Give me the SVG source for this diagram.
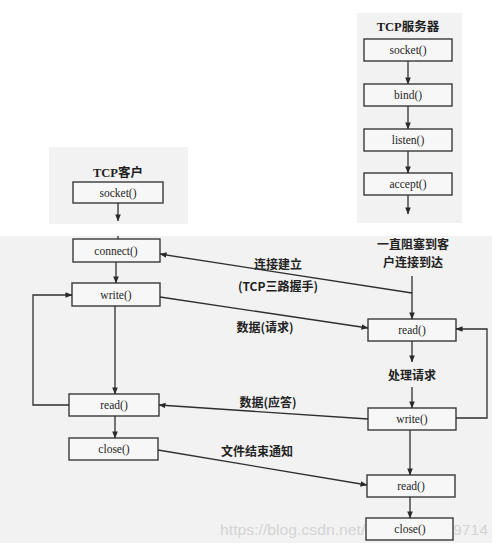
<svg xmlns="http://www.w3.org/2000/svg" width="500" height="552" viewBox="0 0 500 552">
<defs>
<marker id="ah" viewBox="0 0 8 8" refX="7.5" refY="4" markerWidth="7" markerHeight="7" markerUnits="userSpaceOnUse" orient="auto">
<path d="M0,0.8 L8,4 L0,7.2 Z" fill="#2a2a2a"/>
</marker>
</defs>
<style>
.panel{fill:#f2f2f2;stroke:none}
.box{fill:#f7f7f7;stroke:#3a3a3a;stroke-width:1.4}
.lbl{font-family:"Liberation Serif","Noto Sans CJK SC",serif;font-size:11.5px;fill:#1e1e1e;text-anchor:middle}
.cn{font-family:"Noto Sans CJK SC","Liberation Serif",sans-serif;font-size:12px;font-weight:bold;fill:#222;text-anchor:middle}
.ttl{font-family:"Liberation Serif","Noto Sans CJK SC",serif;font-size:12.5px;font-weight:bold;fill:#1e1e1e;text-anchor:middle}
.ln{fill:none;stroke:#2e2e2e;stroke-width:1.3}
.arr{fill:none;stroke:#2e2e2e;stroke-width:1.3;marker-end:url(#ah)}
.wm{font-family:"Liberation Sans",Arial,sans-serif;font-size:15px;fill:#d4d4d4}
</style>
<rect width="500" height="552" fill="#ffffff"/>
<rect class="panel" x="357" y="13" width="105" height="210"/>
<rect class="panel" x="49" y="147" width="139" height="77"/>
<rect class="panel" x="0" y="236" width="492" height="307"/>
<text class="wm" x="220" y="535" textLength="268" lengthAdjust="spacingAndGlyphs">https://blog.csdn.net/weixin_43279714</text>

<text class="ttl" x="408" y="31">TCP服务器</text>
<text class="ttl" x="118" y="177">TCP客户</text>

<g id="s-socket"><rect class="box" x="364" y="39" width="88" height="22"/><text class="lbl" x="408" y="54">socket()</text></g>
<g id="s-bind"><rect class="box" x="364" y="84" width="88" height="22"/><text class="lbl" x="408" y="99">bind()</text></g>
<g id="s-listen"><rect class="box" x="364" y="129" width="88" height="22"/><text class="lbl" x="408" y="144">listen()</text></g>
<g id="s-accept"><rect class="box" x="364" y="173" width="88" height="22"/><text class="lbl" x="408" y="188">accept()</text></g>

<g id="c-socket"><rect class="box" x="73" y="182" width="90" height="21"/><text class="lbl" x="118" y="197">socket()</text></g>
<g id="c-connect"><rect class="box" x="73" y="239" width="87" height="23"/><text class="lbl" x="116" y="255">connect()</text></g>
<g id="c-write"><rect class="box" x="72" y="283" width="88" height="23"/><text class="lbl" x="116" y="299">write()</text></g>
<g id="c-read"><rect class="box" x="69" y="394" width="90" height="22"/><text class="lbl" x="114" y="409">read()</text></g>
<g id="c-close"><rect class="box" x="69" y="438" width="89" height="22"/><text class="lbl" x="114" y="453">close()</text></g>

<g id="s-read"><rect class="box" x="368" y="319" width="88" height="22"/><text class="lbl" x="412" y="334">read()</text></g>
<g id="s-write"><rect class="box" x="368" y="408" width="88" height="22"/><text class="lbl" x="412" y="423">write()</text></g>
<g id="s-read2"><rect class="box" x="367" y="475" width="88" height="22"/><text class="lbl" x="411" y="490">read()</text></g>
<g id="s-close"><rect class="box" x="366" y="518" width="87" height="22"/><text class="lbl" x="410" y="533">close()</text></g>

<g id="labels">
<text class="cn" x="413" y="249">一直阻塞到客</text>
<text class="cn" x="413" y="267">户连接到达</text>
<text class="cn" x="278" y="269">连接建立</text>
<text class="cn" x="278" y="291">(TCP三路握手)</text>
<text class="cn" x="265" y="332">数据(请求)</text>
<text class="cn" x="412" y="380">处理请求</text>
<text class="cn" x="268" y="407">数据(应答)</text>
<text class="cn" x="257" y="456">文件结束通知</text>
</g>

<g id="connectors">
<line class="arr" x1="408" y1="61" x2="408" y2="84"/>
<line class="arr" x1="408" y1="106" x2="408" y2="129"/>
<line class="arr" x1="408" y1="151" x2="408" y2="173"/>
<line class="arr" x1="408" y1="195" x2="408" y2="214"/>
<line class="arr" x1="118" y1="203" x2="118" y2="221"/>
<line class="ln" x1="118" y1="236" x2="118" y2="239"/>
<line class="arr" x1="116" y1="262" x2="116" y2="283"/>
<line class="arr" x1="115" y1="306" x2="115" y2="394"/>
<line class="arr" x1="115" y1="416" x2="115" y2="438"/>
<polyline class="arr" points="69,405 33,405 33,295 72,295"/>
<line class="arr" x1="412" y1="276" x2="412" y2="319"/>
<line class="arr" x1="412" y1="293" x2="160" y2="254"/>
<line class="arr" x1="160" y1="297" x2="368" y2="328"/>
<line class="arr" x1="412" y1="341" x2="412" y2="362"/>
<line class="arr" x1="412" y1="387" x2="412" y2="408"/>
<polyline class="arr" points="456,418 487,418 487,329 456,329"/>
<line class="arr" x1="368" y1="419" x2="159" y2="405"/>
<line class="arr" x1="410" y1="430" x2="410" y2="475"/>
<line class="arr" x1="158" y1="450" x2="367" y2="485"/>
<line class="arr" x1="410" y1="497" x2="410" y2="518"/>
</g>
</svg>
